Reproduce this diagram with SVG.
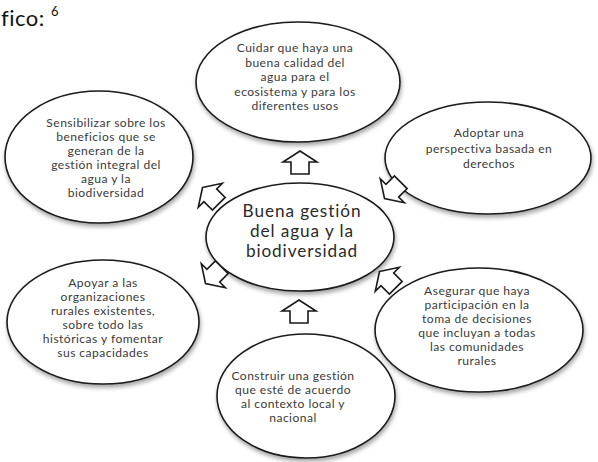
<svg xmlns="http://www.w3.org/2000/svg" width="598" height="462" viewBox="0 0 598 462">
<defs>
<filter id="sh" x="-10%" y="-10%" width="120%" height="125%">
<feDropShadow dx="1" dy="3" stdDeviation="2" flood-color="#000" flood-opacity="0.35"/>
</filter>
<path id="arr" d="M0,-12 L17,-1 L9,-1 L9,11 L-9,11 L-9,-1 L-17,-1 Z"/>
</defs>
<style>
.node ellipse{fill:#fff;stroke:#1a1a1a;stroke-width:1.6;filter:url(#sh)}
.t{font-family:Lato,"Open Sans","Liberation Sans",sans-serif;font-size:12.1px;fill:#3a3a3a;text-anchor:middle;letter-spacing:0.45px}
.c{font-family:Lato,"Open Sans","Liberation Sans",sans-serif;font-size:17.2px;fill:#2a2a2a;text-anchor:middle;letter-spacing:0.9px}
.ti{font-family:Lato,"Open Sans","Liberation Sans",sans-serif;fill:#111;font-variant-ligatures:none;letter-spacing:0.5px}
#connectors use{fill:#fff;stroke:#1a1a1a;stroke-width:1.6;stroke-linejoin:miter}
</style>
<rect width="598" height="462" fill="#fff"/>
<text class="ti" x="1" y="26" font-size="22">fico: <tspan font-size="13" dy="-10">6</tspan></text>

<g id="n-cuidar" class="node">
<ellipse cx="298" cy="82" rx="102" ry="60"/>
<text class="t"><tspan x="295" y="52">Cuidar que haya una</tspan><tspan x="295" y="66.5">buena calidad del</tspan><tspan x="295" y="81">agua para el</tspan><tspan x="295" y="95.5">ecosistema y para los</tspan><tspan x="295" y="110">diferentes usos</tspan></text>
</g>

<g id="n-sensibilizar" class="node">
<ellipse cx="99" cy="157" rx="94" ry="66"/>
<text class="t"><tspan x="106" y="127">Sensibilizar sobre los</tspan><tspan x="106" y="141">beneficios que se</tspan><tspan x="106" y="155">generan de la</tspan><tspan x="106" y="169">gestión integral del</tspan><tspan x="106" y="183">agua y la</tspan><tspan x="106" y="197">biodiversidad</tspan></text>
</g>

<g id="n-adoptar" class="node">
<ellipse cx="488" cy="158" rx="103" ry="56"/>
<text class="t"><tspan x="489" y="137">Adoptar una</tspan><tspan x="489" y="153">perspectiva basada en</tspan><tspan x="489" y="168">derechos</tspan></text>
</g>

<g id="n-centro" class="node">
<ellipse cx="300" cy="237" rx="94" ry="54"/>
<text class="c"><tspan x="302" y="217">Buena gestión</tspan><tspan x="302" y="237">del agua y la</tspan><tspan x="302" y="257">biodiversidad</tspan></text>
</g>

<g id="n-apoyar" class="node">
<ellipse cx="103" cy="322" rx="96" ry="62"/>
<text class="t"><tspan x="103" y="287">Apoyar a las</tspan><tspan x="103" y="301">organizaciones</tspan><tspan x="103" y="315">rurales existentes,</tspan><tspan x="103" y="329">sobre todo las</tspan><tspan x="103" y="343">históricas y fomentar</tspan><tspan x="103" y="357">sus capacidades</tspan></text>
</g>

<g id="n-asegurar" class="node">
<ellipse cx="479" cy="330" rx="104" ry="62"/>
<text class="t"><tspan x="477" y="295">Asegurar  que haya</tspan><tspan x="477" y="309">participación  en la</tspan><tspan x="477" y="323">toma de decisiones</tspan><tspan x="477" y="337">que incluyan  a todas</tspan><tspan x="477" y="351">las comunidades</tspan><tspan x="477" y="365">rurales</tspan></text>
</g>

<g id="n-construir" class="node">
<ellipse cx="306" cy="396" rx="89" ry="62"/>
<text class="t"><tspan x="293" y="380">Construir  una gestión</tspan><tspan x="293" y="394">que esté de acuerdo</tspan><tspan x="293" y="408">al contexto local y</tspan><tspan x="293" y="422">nacional</tspan></text>
</g>

<g id="connectors">
<use href="#arr" transform="translate(300,163)"/>
<use href="#arr" transform="translate(211,196) rotate(-45)"/>
<use href="#arr" transform="translate(393,190) rotate(-135)"/>
<use href="#arr" transform="translate(214,275) rotate(-135)"/>
<use href="#arr" transform="translate(388,280) rotate(-45)"/>
<use href="#arr" transform="translate(299,312)"/>
</g>
</svg>
